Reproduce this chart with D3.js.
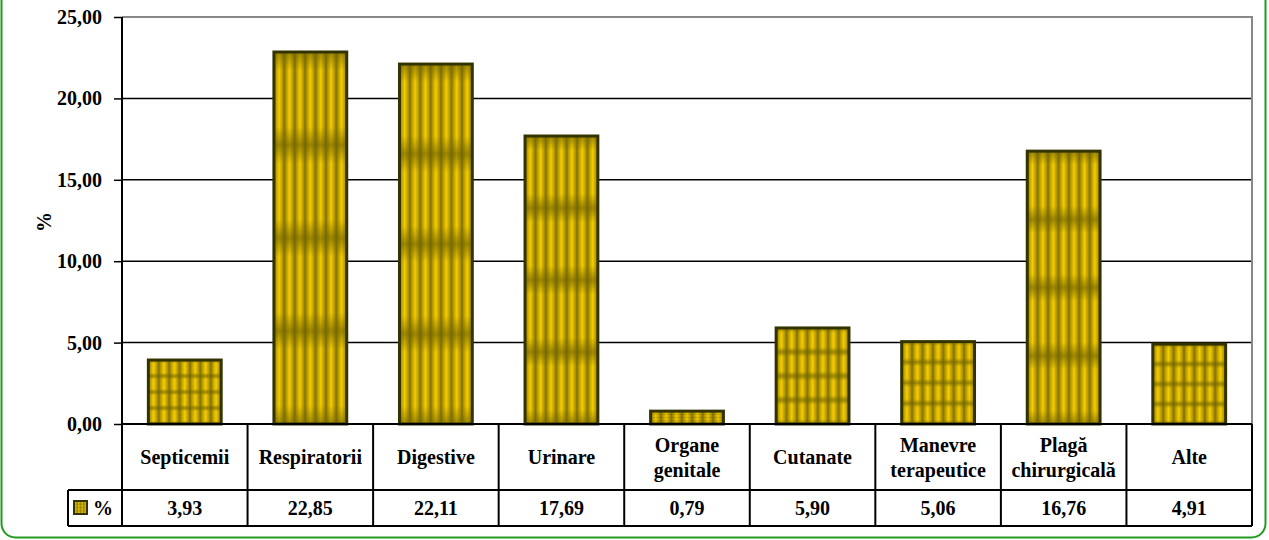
<!DOCTYPE html>
<html>
<head>
<meta charset="utf-8">
<script src="https://cdn.jsdelivr.net/npm/d3@7"></script>
<style>
  html, body { margin: 0; padding: 0; background: #fff; }
  svg { display: block; }
  svg text { font-family: "Liberation Serif", "Times New Roman", Times, "DejaVu Serif", serif !important; font-weight: bold; fill: #000; }
</style>
</head>
<body>
<svg id="chart" width="1269" height="540"></svg>
<script>
const categories = ["Septicemii", "Respiratorii", "Digestive", "Urinare", "Organe genitale", "Cutanate", "Manevre terapeutice", "Plagă chirurgicală", "Alte"];
const categoryLines = [["Septicemii"], ["Respiratorii"], ["Digestive"], ["Urinare"], ["Organe", "genitale"], ["Cutanate"], ["Manevre", "terapeutice"], ["Plagă", "chirurgicală"], ["Alte"]];
const values = [3.93, 22.85, 22.11, 17.69, 0.79, 5.90, 5.06, 16.76, 4.91];
const seriesName = "%";
const yTicks = [0, 5, 10, 15, 20, 25];
const yTitle = "%";

(function () {
const svg = d3.select("#chart");
const locale = d3.formatLocale({decimal: ",", thousands: ".", grouping: [3], currency: ["", ""]});
const fmt = locale.format(".2f");
const FONT = "'Liberation Serif', 'Times New Roman', Times, 'DejaVu Serif', serif";

const pLeft = 122, pRight = 1252, pTop = 17, zeroY = 424;
const catRowBottom = 490, dataRowBottom = 526, tableLeft = 68;

// green outer frame
svg.append("rect")
  .attr("x", 1.5).attr("y", -20).attr("width", 1264).attr("height", 557.5)
  .attr("rx", 14).attr("ry", 14)
  .attr("fill", "none").attr("stroke", "#229922").attr("stroke-width", 2);

// pattern defs
const defs = svg.append("defs");
const gH = defs.append("linearGradient").attr("id", "gH").attr("x1", 0).attr("x2", 1).attr("y1", 0).attr("y2", 0);
[[0, "#7a6c00"], [0.15, "#b09400"], [0.5, "#f5cd00"], [0.85, "#b09400"], [1, "#7a6c00"]]
  .forEach(([o, c]) => gH.append("stop").attr("offset", o).attr("stop-color", c));
const gV = defs.append("linearGradient").attr("id", "gV").attr("x1", 0).attr("x2", 0).attr("y1", 0).attr("y2", 1);
[[0, "#6e6200", 0.65], [0.2, "#6e6200", 0], [0.8, "#6e6200", 0], [1, "#6e6200", 0.65]]
  .forEach(([o, c, a]) => gV.append("stop").attr("offset", o).attr("stop-color", c).attr("stop-opacity", a));

function makePattern(id, cols, rows) {
  const p = defs.append("pattern").attr("id", id)
    .attr("patternUnits", "objectBoundingBox").attr("patternContentUnits", "objectBoundingBox")
    .attr("width", 1 / cols).attr("height", 1 / rows);
  p.append("rect").attr("width", 1 / cols).attr("height", 1 / rows).attr("fill", "url(#gH)");
  p.append("rect").attr("width", 1 / cols).attr("height", 1 / rows).attr("fill", "url(#gV)");
}
makePattern("barPat", 7, 4);
makePattern("keyPat", 4, 4);

const x = d3.scaleBand().domain(categories).range([pLeft, pRight]).padding(0);
const y = d3.scaleLinear().domain([0, 25]).range([zeroY, pTop]);
const barW = x.bandwidth() * 0.58;

// gridlines
svg.append("g").selectAll("line").data(yTicks.filter(t => t > 0 && t < 25)).join("line")
  .attr("x1", pLeft).attr("x2", pRight)
  .attr("y1", d => y(d)).attr("y2", d => y(d))
  .attr("stroke", "#000").attr("stroke-width", 1.5);

// plot border top/right (grey)
svg.append("path")
  .attr("d", `M${pLeft},${y(25)}H${pRight}V${zeroY}`)
  .attr("fill", "none").attr("stroke", "#888").attr("stroke-width", 2);

// bars
svg.append("g").selectAll("rect").data(values).join("rect")
  .attr("x", (d, i) => x(categories[i]) + (x.bandwidth() - barW) / 2)
  .attr("y", d => y(d))
  .attr("width", barW)
  .attr("height", d => zeroY - y(d))
  .attr("fill", "url(#barPat)")
  .attr("stroke", "#333300").attr("stroke-width", 3);

// y axis
const yAxis = d3.axisLeft(y).tickValues(yTicks).tickSize(8).tickPadding(12).tickFormat(fmt);
const ya = svg.append("g").attr("transform", `translate(${pLeft},0)`).call(yAxis)
  .attr("font-family", null).attr("font-size", null);
ya.select(".domain").remove();
ya.selectAll(".tick line").attr("stroke", "#000").attr("stroke-width", 1.5);
ya.selectAll(".tick text").style("font-size", "20px").style("font-family", FONT).style("font-weight", "bold").attr("fill", "#000");

// axis line down through table
svg.append("line").attr("x1", pLeft).attr("x2", pLeft).attr("y1", pTop).attr("y2", dataRowBottom)
  .attr("stroke", "#000").attr("stroke-width", 2);

// y title
svg.append("text").attr("transform", `translate(46,222) rotate(-90)`)
  .attr("text-anchor", "middle").attr("dominant-baseline", "middle")
  .style("font-size", "20px").style("font-family", FONT).text(yTitle);

// table
const tg = svg.append("g").attr("stroke", "#000").attr("stroke-width", 2);
tg.append("line").attr("x1", pLeft).attr("x2", pRight).attr("y1", zeroY).attr("y2", zeroY);
tg.append("line").attr("x1", tableLeft).attr("x2", pRight).attr("y1", catRowBottom).attr("y2", catRowBottom);
tg.append("line").attr("x1", tableLeft).attr("x2", pRight).attr("y1", dataRowBottom).attr("y2", dataRowBottom);
tg.append("line").attr("x1", tableLeft).attr("x2", tableLeft).attr("y1", catRowBottom).attr("y2", dataRowBottom);
tg.selectAll(".v").data(categories).join("line").attr("class", "v")
  .attr("x1", d => x(d) + x.bandwidth()).attr("x2", d => x(d) + x.bandwidth())
  .attr("y1", zeroY).attr("y2", dataRowBottom);

// category labels
const cl = svg.append("g").selectAll("text").data(categoryLines).join("text")
  .attr("text-anchor", "middle").style("font-size", "20px").style("font-family", FONT)
  .attr("x", (d, i) => x(categories[i]) + x.bandwidth() / 2)
  .attr("y", d => (zeroY + catRowBottom) / 2 - (d.length - 1) * 12.5 + 7);
cl.selectAll("tspan").data(d => d).join("tspan")
  .attr("x", function() { return this.parentNode.getAttribute("x"); })
  .attr("dy", (d, i) => i === 0 ? 0 : 25)
  .text(d => d);

// data values
svg.append("g").selectAll("text").data(values).join("text")
  .attr("text-anchor", "middle").style("font-size", "20px").style("font-family", FONT)
  .attr("x", (d, i) => x(categories[i]) + x.bandwidth() / 2)
  .attr("y", (catRowBottom + dataRowBottom) / 2 + 7)
  .text(d => fmt(d));

// legend key
svg.append("rect").attr("x", 74).attr("y", 501).attr("width", 13).attr("height", 13)
  .attr("fill", "url(#keyPat)").attr("stroke", "#333300").attr("stroke-width", 2);
svg.append("text").attr("x", 93).attr("y", (catRowBottom + dataRowBottom) / 2 + 7)
  .style("font-size", "20px").style("font-family", FONT).text(seriesName);
})();
</script>
</body>
</html>
